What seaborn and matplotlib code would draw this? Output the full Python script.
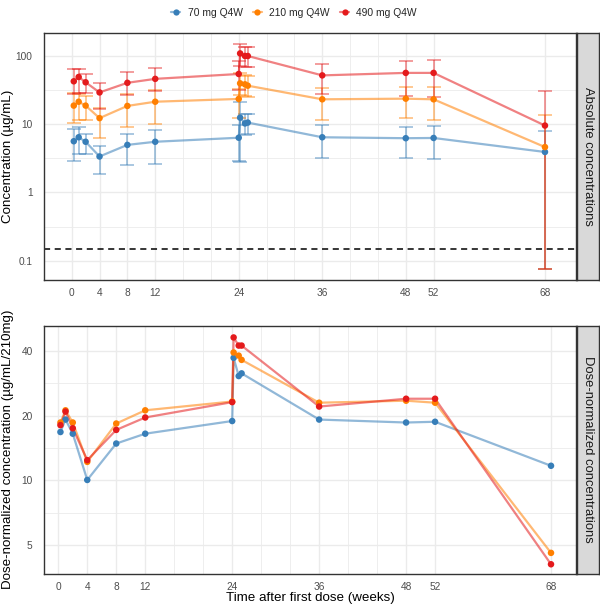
import numpy as np
import pandas as pd
import matplotlib
matplotlib.use("Agg")
import matplotlib.pyplot as plt
import seaborn as sns
from matplotlib.lines import Line2D
from matplotlib.ticker import FixedLocator, FixedFormatter, NullFormatter

# ---------------- data ----------------
weeks = [0.3, 1, 2, 4, 8, 12, 24, 24.2, 24.9, 25.3, 36, 48, 52, 68]
doses = ["70 mg Q4W", "210 mg Q4W", "490 mg Q4W"]
dose_mg = [70, 210, 490]
colors = ["#377EB8", "#FF7F00", "#E41A1C"]

conc_70 = [5.6, 6.4, 5.5, 3.35, 4.95, 5.5, 6.3, 12.4, 10.2, 10.5, 6.4, 6.2, 6.25, 3.9]
upper_70 = [8.4, 9.0, 7.2, 4.8, 7.2, 8.3, 9.7, 21.0, 14.0, 14.0, 9.6, 9.0, 9.3, 8.0]
lower_70 = [2.9, 3.6, 3.6, 1.85, 2.5, 2.6, 2.9, 2.8, 7.0, 7.2, 3.2, 3.2, 3.1, 0.075]

conc_210 = [18.6, 21.2, 18.6, 12.2, 18.4, 21.2, 23.3, 39.4, 38.1, 36.4, 23.0, 23.5, 23.0, 4.6]
upper_210 = [28.1, 27.5, 25.7, 17.0, 27.2, 31.5, 33.0, 55.0, 52.0, 50.0, 33.7, 34.5, 34.5, 13.7]
lower_210 = [10.2, 11.5, 11.5, 6.3, 9.0, 10.1, 12.3, 27.0, 26.0, 25.0, 11.6, 12.1, 11.5, 0.076]

conc_490 = [42.2, 48.8, 40.8, 29.0, 40.1, 45.8, 54.0, 108.0, 99.0, 99.0, 51.5, 56.0, 56.0, 9.5]
upper_490 = [63.0, 64.5, 53.4, 40.3, 57.1, 66.7, 84.0, 150.0, 136.0, 136.0, 74.8, 84.5, 86.5, 30.1]
lower_490 = [27.2, 28.7, 28.0, 16.4, 26.6, 30.0, 32.0, 70.0, 68.0, 68.0, 27.2, 26.0, 25.1, 0.075]

lloq = 0.15
x_tick_labels = [0, 4, 8, 12, 24, 36, 48, 52, 68]
x_grid = [0, 4, 8, 12, 16, 20, 24, 28, 32, 36, 40, 44, 48, 52, 68]

concs = [conc_70, conc_210, conc_490]
uppers = [upper_70, upper_210, upper_490]
lowers = [lower_70, lower_210, lower_490]

rows = []
for d, mg, c, u, l in zip(doses, dose_mg, concs, uppers, lowers):
    for w, ci, ui, li in zip(weeks, c, u, l):
        rows.append(dict(week=w, dose=d, conc=ci, upper=ui, lower=li,
                         norm=ci * 210.0 / mg))
df = pd.DataFrame(rows)

# ---------------- style ----------------
sns.set_theme(style="white")
plt.rcParams["font.family"] = ["Liberation Sans", "DejaVu Sans"]
pal = dict(zip(doses, colors))

W, H = 600, 606
fig = plt.figure(figsize=(W / 100, H / 100), dpi=100)

def fr(x0, y0, x1, y1):
    return [x0 / W, 1 - y1 / H, (x1 - x0) / W, (y1 - y0) / H]

ax1 = fig.add_axes(fr(44, 32.7, 576, 279.7))
ax2 = fig.add_axes(fr(44, 325.7, 576, 573.7))

GRID = "#EBEBEB"
BORDER = "#333333"
TXT = "#4D4D4D"

# ---- top panel: absolute concentrations ----
ax1.set_yscale("log")
for d, c in zip(doses, colors):
    sub = df[df.dose == d]
    ax1.vlines(sub.week, sub.lower, sub.upper, color=c, alpha=0.5, lw=1.2, zorder=2)
    ax1.hlines(sub.upper, sub.week - 1, sub.week + 1, color=c, alpha=0.5, lw=1.2, zorder=2)
    ax1.hlines(sub.lower, sub.week - 1, sub.week + 1, color=c, alpha=0.5, lw=1.2, zorder=2)
sns.lineplot(data=df, x="week", y="conc", hue="dose", palette=pal, ax=ax1,
             estimator=None, alpha=0.55, lw=1.6, legend=False, zorder=3)
sns.scatterplot(data=df, x="week", y="conc", hue="dose", palette=pal, ax=ax1,
                s=22, linewidth=0, legend=False, zorder=4)
ax1.axhline(lloq, color="black", ls=(0, (4, 3)), lw=1.1, zorder=2.5)
ax1.set_xlim(-3.98, 72.46)
ax1.set_ylim(0.0527, 217)
ax1.yaxis.set_major_locator(FixedLocator([0.1, 1, 10, 100]))
ax1.yaxis.set_major_formatter(FixedFormatter(["0.1", "1", "10", "100"]))
ax1.yaxis.set_minor_locator(FixedLocator([10 ** -0.5, 10 ** 0.5, 10 ** 1.5]))
ax1.yaxis.set_minor_formatter(NullFormatter())

# ---- bottom panel: dose-normalized ----
ax2.set_yscale("log", base=2)
sns.lineplot(data=df, x="week", y="norm", hue="dose", palette=pal, ax=ax2,
             estimator=None, alpha=0.55, lw=1.6, legend=False, zorder=3)
sns.scatterplot(data=df, x="week", y="norm", hue="dose", palette=pal, ax=ax2,
                s=22, linewidth=0, legend=False, zorder=4)
ax2.set_xlim(-1.97, 71.45)
ax2.set_ylim(3.68, 52.5)
ax2.yaxis.set_major_locator(FixedLocator([5, 10, 20, 40]))
ax2.yaxis.set_major_formatter(FixedFormatter(["5", "10", "20", "40"]))
ax2.yaxis.set_minor_locator(FixedLocator([5 * 2 ** 0.5, 10 * 2 ** 0.5, 20 * 2 ** 0.5]))
ax2.yaxis.set_minor_formatter(NullFormatter())

for ax in (ax1, ax2):
    ax.set_facecolor("white")
    ax.set_xticks(x_tick_labels)
    ax.set_xticklabels([str(v) for v in x_tick_labels])
    for g in x_grid:
        ax.axvline(g, color=GRID, lw=1.0 if g in x_tick_labels else 0.6, zorder=0)
    ax.grid(False)
    ax.yaxis.grid(True, which="major", color=GRID, lw=1.0, zorder=0)
    ax.yaxis.grid(True, which="minor", color=GRID, lw=0.6, zorder=0)
    ax.set_axisbelow(True)
    for s in ax.spines.values():
        s.set_color(BORDER)
        s.set_linewidth(1.0)
        s.set_visible(True)
    ax.tick_params(axis="both", which="major", length=3.2, width=0.8, color=BORDER,
                   labelsize=7.3, labelcolor=TXT, pad=2.5)
    ax.tick_params(axis="y", which="major", pad=5)
    ax.tick_params(axis="both", which="minor", length=0)
    ax.set_xlabel("")

ax1.set_ylabel("Concentration (µg/mL)", fontsize=9.6, color="black")
ax2.set_ylabel("Dose-normalized concentration (µg/mL/210mg)", fontsize=9.6, color="black")
ax1.yaxis.set_label_coords(-30 / 532, 0.5)
ax2.yaxis.set_label_coords(-30 / 532, 0.5)

fig.text(310 / W, 1 - 598 / H, "Time after first dose (weeks)", ha="center", va="center",
         fontsize=9.6, color="black")

# ---- facet strips ----
for (y0, y1, lab) in [(32.7, 279.7, "Absolute concentrations"),
                      (325.7, 573.7, "Dose-normalized concentrations")]:
    sax = fig.add_axes(fr(577, y0, 598.5, y1))
    sax.set_facecolor("#D9D9D9")
    sax.set_xticks([])
    sax.set_yticks([])
    for s in sax.spines.values():
        s.set_color(BORDER)
        s.set_linewidth(1.0)
    sax.text(0.5, 0.5, lab, rotation=270, ha="center", va="center", fontsize=9.4,
             color="#1A1A1A", transform=sax.transAxes)

# ---- legend ----
handles = []
for d, c in zip(doses, colors):
    rgba = matplotlib.colors.to_rgba(c, 0.55)
    handles.append(Line2D([0], [0], color=rgba, lw=1.6, marker="o", markersize=4.5,
                          markerfacecolor=c, markeredgecolor=c, markeredgewidth=0))
fig.legend(handles, doses, loc="center", bbox_to_anchor=(294 / W, 1 - 13 / H), ncol=3,
           frameon=False, fontsize=7.4, handlelength=0.9, handletextpad=0.7,
           columnspacing=1.0, borderpad=0)

fig.savefig("out.png", dpi=100)
